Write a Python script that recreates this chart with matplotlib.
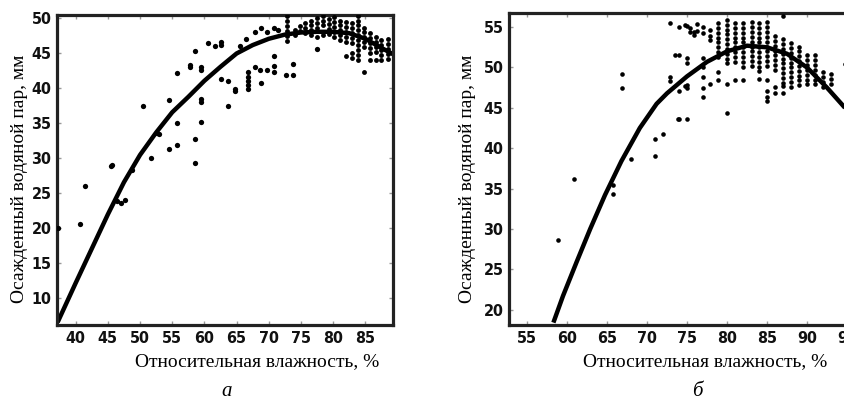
import numpy as np
from matplotlib import pyplot as plt
from matplotlib import font_manager

# ---------------- панель а ----------------
a_curve_x = [37.2, 40, 42.5, 45, 47.5, 50, 52.5, 55, 57.5, 60, 62.5, 65, 67.5, 70,
             72.5, 75, 77.5, 80, 82.5, 85, 87.5, 89.3]
a_curve_y = [6.5, 12.1, 17.0, 21.9, 26.5, 30.4, 33.6, 36.5, 38.7, 41.0, 43.0, 44.9,
             46.1, 47.0, 47.6, 47.9, 48.0, 48.0, 47.8, 47.0, 45.7, 44.8]

# точки вне кластера
a_x = [37.3, 40.6, 41.5, 45.5, 45.6, 46.4, 47.0, 47.6, 48.8, 50.5, 51.7, 52.6, 53.0,
       54.5, 54.5, 55.7, 55.7, 55.7, 57.7, 57.7, 58.6, 58.6, 58.6, 59.5, 59.5, 59.5,
       59.5, 59.5, 60.6, 61.6, 62.6, 62.6, 62.6, 63.7, 63.6, 64.8, 64.8, 66.8, 66.8,
       66.8, 66.8, 66.8, 67.8, 68.6, 68.8, 69.7, 70.8, 70.8, 70.8, 72.6, 73.7, 73.7,
       77.5, 65.5, 66.5, 67.8, 68.8, 69.7, 70.8, 71.5]
a_y = [20.0, 20.6, 26.0, 28.8, 29.0, 23.8, 23.6, 23.9, 28.3, 37.4, 30.0, 33.6, 33.4,
       38.2, 31.2, 42.1, 34.9, 31.8, 43.3, 43.0, 45.3, 32.7, 29.3, 43.0, 42.6, 38.4,
       38.0, 35.1, 46.4, 45.9, 46.6, 46.1, 41.2, 40.9, 37.4, 39.8, 39.6, 42.3, 41.6,
       41.0, 40.4, 39.8, 43.0, 42.6, 40.7, 42.6, 44.5, 43.1, 42.3, 41.8, 41.8, 43.4,
       45.6, 46.0, 47.0, 47.9, 48.6, 47.9, 48.6, 48.3]

# кластер 72-89 %
a_cx = [72.9] * 6 + [74.0] * 2 + [74.8] * 2 + [75.7] * 3 + [76.6] * 4 + [77.5] * 4 + \
       [78.4] * 4 + [79.3] * 4 + [80.2] * 5 + [81.1] * 5 + [82.0] * 6 + [83.0] * 7 + \
       [83.8] * 10 + [84.8] * 6 + [85.7] * 6 + [86.6] * 5 + [87.5] * 5 + [88.5] * 5
a_cy = [50.2, 49.5, 48.8, 48.1, 47.4, 46.7,
        48.3, 47.6,
        48.8, 48.1,
        49.2, 48.5, 47.8,
        49.6, 48.9, 48.2, 47.5,
        50.0, 49.3, 48.6, 47.2,
        50.3, 49.6, 48.9, 47.5,
        49.8, 49.1, 48.4, 47.7,
        50.1, 49.4, 48.7, 48.0, 47.3,
        49.6, 48.9, 48.2, 47.5, 46.8,
        49.4, 48.7, 48.0, 47.3, 46.6, 44.6,
        49.2, 48.5, 47.8, 47.1, 46.4, 45.0, 44.2,
        50.3, 49.6, 48.9, 48.2, 47.5, 46.8, 46.1, 45.4, 44.7, 44.0,
        48.6, 47.9, 47.2, 46.5, 45.8, 42.3,
        47.8, 47.1, 46.4, 45.7, 45.0, 44.0,
        47.2, 46.5, 45.8, 45.1, 44.0,
        46.8, 46.1, 45.4, 44.7, 43.9,
        46.9, 46.2, 45.5, 44.8, 44.1]

# ---------------- панель б ----------------
b_curve_x = [58.3, 59.5, 61.2, 62.9, 64.75, 66.8, 69.1, 71.2, 72.5, 75, 77.5, 80,
             82.5, 85, 87.5, 90, 92.5, 94.75, 97]
b_curve_y = [18.4, 21.7, 25.9, 30.0, 34.2, 38.4, 42.5, 45.5, 46.8, 48.9, 50.7, 52.0,
             52.7, 52.5, 51.7, 50.0, 47.5, 45.0, 42.2]

b_x = [58.9, 60.9, 65.8, 65.8, 66.9, 66.9, 68.0, 71.0, 71.0, 72.0, 73.9, 73.5, 74.75,
       74.75, 75.4, 75.4, 76.25, 76.25]
b_y = [28.6, 36.2, 34.3, 35.4, 49.2, 47.5, 38.7, 41.2, 39.0, 41.7, 43.6, 51.6, 55.25,
       47.7, 54.9, 54.4, 55.4, 54.5]

b_cx = [72.9] * 3 + [74.0] * 4 + [75.0] * 6 + [75.9] * 2 + [77.0] * 7 + [77.9] * 4 + \
       [78.9] * 10 + [80.0] * 12 + [81.0] * 10 + [82.0] * 11 + [83.1] * 10 + \
       [84.0] * 12 + [85.0] * 14 + [86.0] * 10 + [87.0] * 13 + [88.0] * 10 + \
       [89.0] * 9 + [90.0] * 7 + [91.0] * 7 + [92.0] * 4 + [93.0] * 3 + [94.75]
b_cy = [55.5, 48.8, 48.3,
        55.0, 51.6, 47.1, 43.6,
        55.1, 51.2, 50.6, 47.8, 47.4, 43.6,
        54.4, 54.0,
        55.0, 54.3, 51.2, 50.0, 48.8, 47.5, 46.3,
        54.6, 53.9, 53.4, 48.0,
        55.5, 54.9, 54.3, 53.7, 53.1, 52.5, 51.9, 51.3, 49.4, 48.5,
        55.9, 55.3, 54.7, 54.1, 53.5, 52.9, 52.3, 51.7, 51.1, 50.5, 47.9, 44.4,
        55.5, 54.9, 54.3, 53.7, 53.1, 52.5, 51.9, 51.3, 50.7, 48.4,
        55.5, 54.9, 54.3, 53.7, 53.1, 52.5, 51.9, 51.3, 50.7, 50.1, 48.4,
        55.6, 55.0, 54.4, 53.8, 53.2, 52.6, 52.0, 51.4, 50.8, 50.2,
        55.5, 54.9, 54.3, 53.7, 53.1, 52.5, 51.9, 51.3, 50.7, 50.1, 49.6, 48.6,
        55.6, 55.0, 54.4, 53.8, 53.2, 52.6, 52.0, 51.4, 50.8, 50.2, 48.4, 47.1, 46.4, 45.8,
        53.9, 53.3, 52.7, 52.1, 51.5, 50.9, 50.3, 49.7, 47.6, 46.9,
        56.4, 53.5, 52.9, 52.3, 51.7, 51.1, 50.5, 49.9, 49.3, 48.7, 48.1, 47.7, 46.8,
        53.0, 52.4, 51.8, 51.2, 50.6, 50.0, 49.4, 48.8, 48.2, 47.6,
        52.6, 52.0, 51.4, 50.8, 50.2, 49.6, 49.0, 48.4, 47.8,
        51.5, 50.9, 50.3, 49.7, 49.1, 48.5, 47.9,
        51.5, 50.9, 50.3, 49.7, 49.1, 48.5, 47.9,
        49.4, 48.8, 48.2, 47.6,
        49.2, 48.6, 48.0,
        50.4]

a_xticks = [40, 45, 50, 55, 60, 65, 70, 75, 80, 85]
a_yticks = [10, 15, 20, 25, 30, 35, 40, 45, 50]
b_xticks = [55, 60, 65, 70, 75, 80, 85, 90, 95]
b_yticks = [20, 25, 30, 35, 40, 45, 50, 55]

ylabel = "Осажденный водяной пар, мм"
xlabel = "Относительная влажность, %"

# узкий жирный шрифт для цифр на осях, если он есть
fonts = font_manager.fontManager.ttflist
if any(f.name == 'Liberation Sans Narrow' for f in fonts):
    tickfont = dict(family='Liberation Sans Narrow', weight='bold', size=12.5)
elif any(f.name == 'DejaVu Sans' and f.stretch == 'condensed' for f in fonts):
    tickfont = dict(family='DejaVu Sans', stretch='condensed', weight='bold', size=11.5)
else:
    tickfont = dict(family='Liberation Sans', weight='bold', size=10.5)
serif = ['Liberation Serif', 'DejaVu Serif']

W, H = 845, 401
fig = plt.figure(figsize=(W / 100, H / 100), dpi=100)


def setup(ax, xlim, ylim, xt, yt):
    ax.set_xlim(*xlim)
    ax.set_ylim(*ylim)
    ax.set_xticks(xt)
    ax.set_yticks(yt)
    ax.tick_params(direction='in', length=3, width=1, color='#999999',
                   top=True, right=True, pad=4)
    for lab in ax.get_xticklabels() + ax.get_yticklabels():
        lab.set_fontproperties(font_manager.FontProperties(**tickfont))
        lab.set_color('#111111')
    for s in ax.spines.values():
        s.set_linewidth(2.3)
        s.set_color('#222222')


# панель а
ax1 = fig.add_axes([57 / W, (H - 325) / H, 336 / W, 310 / H])
ax1.plot(a_curve_x, a_curve_y, color='black', lw=3.2, solid_capstyle='butt', zorder=2)
ax1.plot(a_x, a_y, 'o', color='black', ms=3.8, mew=0, zorder=3)
ax1.plot(a_cx, a_cy, 'o', color='black', ms=3.5, mew=0, zorder=3)
setup(ax1, (37.1, 89.3), (6.1, 50.4), a_xticks, a_yticks)

# панель б (обрезана справа, как на исходном рисунке)
ax2 = fig.add_axes([509 / W, (H - 325) / H, 354 / W, 312 / H])
ax2.plot(b_curve_x, b_curve_y, color='black', lw=3.2, solid_capstyle='butt', zorder=2)
ax2.plot(b_x, b_y, 'o', color='black', ms=3.3, mew=0, zorder=3)
ax2.plot(b_cx, b_cy, 'o', color='black', ms=3.3, mew=0, zorder=3)
setup(ax2, (52.75, 97.0), (18.1, 56.75), b_xticks, b_yticks)

# подписи осей
fig.text(20 / W, 1 - 179 / H, ylabel, rotation=90, ha='center', va='center',
         family=serif, fontsize=14)
fig.text(468 / W, 1 - 179 / H, ylabel, rotation=90, ha='center', va='center',
         family=serif, fontsize=14)
fig.text(257 / W, 1 - 362 / H, xlabel, ha='center', va='center', family=serif, fontsize=14)
fig.text(705 / W, 1 - 362 / H, xlabel, ha='center', va='center', family=serif, fontsize=14)
fig.text(227 / W, 1 - 392 / H, "а", ha='center', va='center', family=serif,
         style='italic', fontsize=15)
fig.text(697 / W, 1 - 392 / H, "б", ha='center', va='center', family=serif,
         style='italic', fontsize=15)

fig.savefig("out.png", dpi=100)
